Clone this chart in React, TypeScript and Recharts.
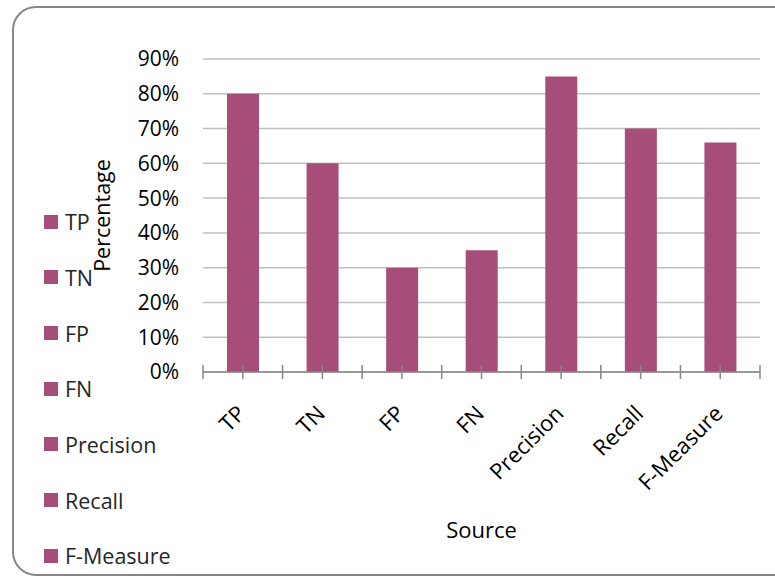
import React from 'react';
import { BarChart, Bar, XAxis, YAxis, CartesianGrid, Legend, Label } from 'recharts';

const CATEGORIES = ['TP', 'TN', 'FP', 'FN', 'Precision', 'Recall', 'F-Measure'];
const PERCENTAGES = [80, 60, 30, 35, 85, 70, 66];
const Y_TICKS = [0, 10, 20, 30, 40, 50, 60, 70, 80, 90];

const W = 775;
const H = 580;
const MARGIN = { top: 59, right: 15, left: 0, bottom: 0 };
const Y_AXIS_W = 203;
const PLOT_W = W - MARGIN.left - MARGIN.right - Y_AXIS_W;
const BAND = PLOT_W / CATEGORIES.length;

const BAR_COLOR = '#a64d79';
const AXIS_COLOR = '#878787';
const GRID_COLOR = '#c0c0c0';
const FONT = '"Open Sans", "DejaVu Sans", sans-serif';

const data = CATEGORIES.map((name, i) => ({ name, value: PERCENTAGES[i] }));

// x ticks cross the axis line, both at the centre and at the band edges
const XTick = (props: any) => {
  const { x, y, payload, index } = props;
  const last = index === CATEGORIES.length - 1;
  return (
    <g>
      <line x1={x} x2={x} y1={y - 7} y2={y + 7} stroke={AXIS_COLOR} strokeWidth={1.5} />
      <line x1={x - BAND / 2} x2={x - BAND / 2} y1={y - 7} y2={y + 7} stroke={AXIS_COLOR} strokeWidth={1.5} />
      {last && (
        <line x1={x + BAND / 2} x2={x + BAND / 2} y1={y - 7} y2={y + 7} stroke={AXIS_COLOR} strokeWidth={1.5} />
      )}
      <text
        transform={`translate(${x + 4},${y + 43}) rotate(-45)`}
        textAnchor="end"
        fontSize={22}
        fontFamily={FONT}
        fill="#000"
      >
        {payload.value}
      </text>
    </g>
  );
};

const LegendList = () => (
  <div style={{ fontFamily: FONT, fontSize: 21.5, color: '#262626' }}>
    {CATEGORIES.map((c) => (
      <div key={c} style={{ height: 55.67, display: 'flex', alignItems: 'center' }}>
        <span style={{ width: 14, height: 14, background: BAR_COLOR, display: 'inline-block', marginRight: 7 }} />
        <span>{c}</span>
      </div>
    ))}
  </div>
);

export default function App() {
  return (
    <div style={{ position: 'fixed', left: 0, top: 0, width: W, height: H, overflow: 'hidden', background: '#fff' }}>
      <div
        style={{
          position: 'absolute',
          left: 12,
          top: 6,
          width: 790,
          height: 570,
          border: `2px solid ${AXIS_COLOR}`,
          borderRadius: 24,
          boxSizing: 'border-box',
        }}
      />
      <div style={{ position: 'absolute', left: 0, top: 0 }}>
        <BarChart width={W} height={H} data={data} margin={MARGIN}>
          <CartesianGrid vertical={false} stroke={GRID_COLOR} strokeWidth={1.5} />
          <XAxis
            dataKey="name"
            interval={0}
            height={H - MARGIN.top - 313}
            tickSize={0}
            tickMargin={0}
            tickLine={false}
            axisLine={{ stroke: AXIS_COLOR, strokeWidth: 1.5 }}
            tick={<XTick />}
          >
            <Label
              content={() => (
                <text x={Y_AXIS_W + PLOT_W / 2} y={538} textAnchor="middle" fontSize={22} fontFamily={FONT} fill="#000">
                  Source
                </text>
              )}
            />
          </XAxis>
          <YAxis
            width={Y_AXIS_W}
            domain={[0, 90]}
            ticks={Y_TICKS}
            interval={0}
            tickFormatter={(v: number) => `${v}%`}
            tickSize={0}
            tickMargin={24}
            tickLine={false}
            axisLine={false}
            tick={{ fontSize: 21, fontFamily: FONT, fill: '#000' }}
          >
            <Label
              content={(p: any) => {
                const cy = p.viewBox.y + p.viewBox.height / 2;
                return (
                  <text
                    transform={`translate(110,${cy}) rotate(-90)`}
                    textAnchor="middle"
                    fontSize={21.5}
                    fontFamily={FONT}
                    fill="#000"
                  >
                    Percentage
                  </text>
                );
              }}
            />
          </YAxis>
          <Legend
            layout="vertical"
            align="center"
            verticalAlign="middle"
            content={<LegendList />}
            wrapperStyle={{ left: 44, top: 194, width: 'auto' }}
          />
          <Bar dataKey="value" fill={BAR_COLOR} barSize={32} isAnimationActive={false} />
        </BarChart>
      </div>
    </div>
  );
}
